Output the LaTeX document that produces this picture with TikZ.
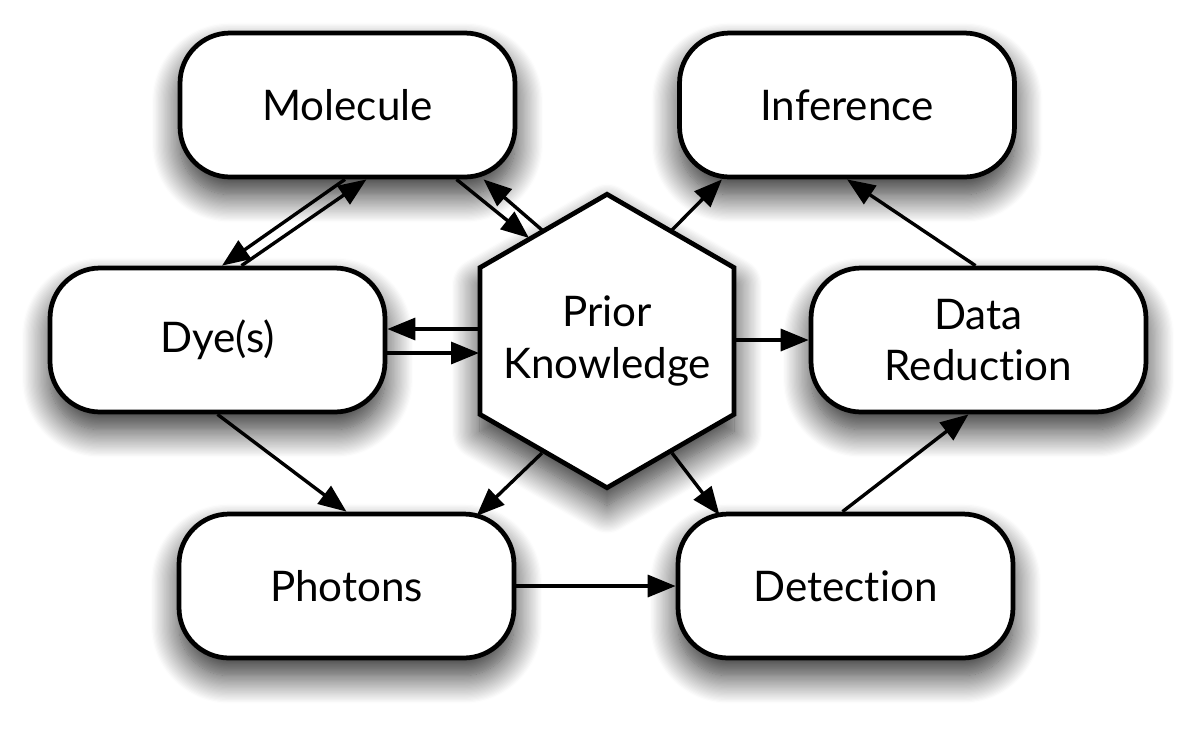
\documentclass[tikz,border=0pt]{standalone}
\usepackage{fontspec}
\setmainfont{Lato}[Ligatures={NoCommon}]
\usetikzlibrary{shapes.geometric,arrows.meta,calc,shadows.blur}
\begin{document}
\begin{tikzpicture}[x=0.02cm,y=-0.02cm,
  softshadow/.style={blur shadow={shadow xshift=0pt, shadow yshift=-10pt, shadow blur radius=16pt, shadow blur steps=24, shadow opacity=85}},
  labelfont/.style={font=\fontsize{24}{29.5}\selectfont},
  box/.style={draw, line width=0.095cm, fill=white, rectangle, rounded corners=1cm,
     minimum width=6.7cm, minimum height=2.88cm, align=center, inner sep=0pt,
     labelfont, softshadow},
  hexbox/.style={draw, line width=0.095cm, fill=white, regular polygon, regular polygon sides=6,
     shape border rotate=30, minimum size=5.87cm, inner sep=0pt, softshadow},
  conn/.style={line width=0.068cm, -{Triangle[length=0.56cm,width=0.44cm]}}
]
\useasboundingbox (0,0) rectangle (1200,728);
\node[box] (mol) at (347.5,105) {Molecule};
\node[box] (inf) at (847,105) {Inference};
\node[box] (dye) at (217.5,340) {Dye(s)};
\node[box] (dr)  at (978.5,340) {Data\\Reduction};
\node[box] (ph)  at (346.5,586) {Photons};
\node[box] (det) at (845.5,586) {Detection};
\node[hexbox, label={[align=center, labelfont, inner sep=0pt]center:Prior\\Knowledge}] (pk) at (607,341) {};

\draw[conn] ($(mol.south)+(-2.5,0)$) -- ($(dye.north)+(4.5,0)$);
\draw[conn] ($(dye.north)+(24,0)$) -- ($(mol.south)+(19,0)$);
\draw[conn] ($(mol.south)+(109,0)$) -- ($(pk.center)+(-78,-103)$);
\draw[conn] ($(pk.center)+(-65,-111)$) -- ($(mol.south)+(136,0)$);
\draw[conn] ($(pk.center)+(65,-111)$) -- ($(inf.south)+(-125,0)$);
\draw[conn] ($(pk.center)+(-128,-12)$) -- ($(dye.east)+(0,-11)$);
\draw[conn] ($(dye.east)+(0,13)$) -- ($(pk.center)+(-128,12)$);
\draw[conn] ($(pk.center)+(128,-1)$) -- (dr.west);
\draw[conn] ($(dr.north)+(-3,0)$) -- (inf.south);
\draw[conn] (dye.south) -- (ph.north);
\draw[conn] ($(pk.center)+(-65,112)$) -- ($(ph.center)+(130,-70)$);
\draw[conn] ($(pk.center)+(65,112)$) -- ($(det.center)+(-126,-71)$);
\draw[conn] (ph.east) -- (det.west);
\draw[conn] ($(det.north)+(-3,0)$) -- ($(dr.south)+(-10,0)$);
\end{tikzpicture}
\end{document}
